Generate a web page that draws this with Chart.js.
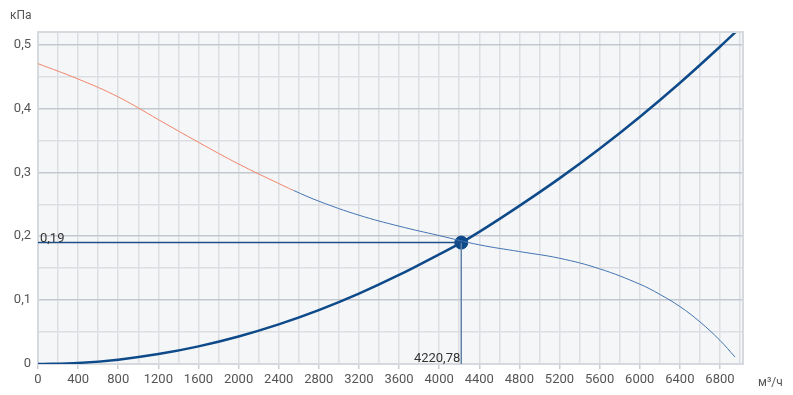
<!DOCTYPE html>
<html>
<head>
<meta charset="utf-8">
<script src="https://cdn.jsdelivr.net/npm/chart.js@4/dist/chart.umd.min.js"></script>
<style>
html,body{margin:0;padding:0;background:#fff;}
#wrap{width:793px;height:395px;position:relative;}
</style>
</head>
<body>
<div id="wrap"><canvas id="c" width="793" height="395"></canvas></div>
<script>
// Fan curve (flow m3/h, pressure kPa)
const fanX = [0, 400, 800, 1200, 1600, 2000, 2400, 2550, 2800, 3200, 3600, 4000, 4400, 4800, 5200, 5600, 6000, 6200, 6400, 6600, 6800, 6950];
const fanY = [0.470, 0.446, 0.418, 0.3825, 0.347, 0.313, 0.2825, 0.2715, 0.2548, 0.2329, 0.2157, 0.201, 0.1865, 0.176, 0.1655, 0.149, 0.125, 0.109, 0.090, 0.066, 0.037, 0.011];
// Fan curve drawn in orange below this flow
const fanWarnLimit = 2550;
// System curve
const sysX = [0, 400, 800, 1200, 1600, 2000, 2400, 2800, 3200, 3600, 4000, 4220.78, 4400, 4800, 5200, 5600, 6000, 6400, 6800, 7000];
const sysY = [0, 0.0017, 0.0068, 0.0155, 0.0276, 0.0431, 0.062, 0.0843, 0.1101, 0.1393, 0.1716, 0.19, 0.2068, 0.2475, 0.2905, 0.3368, 0.3866, 0.4398, 0.4965, 0.526];
// Operating point
const opX = 4220.78;
const opY = 0.19;
const opXLabel = '4220,78';
const opYLabel = '0,19';
// Axes
const xMin = 0, xMax = 7030, xStep = 200, xLabelStep = 400, xLastTick = 7000;
const yMin = 0, yMax = 0.518, yStep = 0.05, yLastTick = 0.5;
const yUnit = 'кПа';
const xUnit = 'м³/ч';

const toPts = (xs, ys) => xs.map((x, i) => ({x: x, y: ys[i]}));
const FONT = 'Roboto, "Liberation Sans", sans-serif';

const makeTicks = (from, to, step) => {
  const out = [];
  const n = Math.round((to - from) / step);
  for (let i = 0; i <= n; i++) out.push({value: +(from + i * step).toFixed(6)});
  return out;
};

const decor = {
  id: 'decor',
  beforeDraw(chart) {
    const {ctx, chartArea: a} = chart;
    ctx.save();
    ctx.fillStyle = '#f4f6f8';
    ctx.fillRect(a.left, a.top, a.right - a.left, a.bottom - a.top);
    ctx.restore();
  },
  beforeDatasetsDraw(chart) {
    const {ctx, chartArea: a} = chart;
    ctx.save();
    ctx.strokeStyle = '#d6d9dd';
    ctx.lineWidth = 2;
    ctx.strokeRect(a.left, a.top - 1, a.right - a.left, a.bottom - a.top + 1);
    ctx.restore();
  },
  afterDraw(chart) {
    const {ctx, scales} = chart;
    const xs = scales.x, ys = scales.y;
    ctx.save();
    ctx.fillStyle = '#555';
    ctx.font = '12px ' + FONT;
    ctx.textBaseline = 'alphabetic';
    ctx.textAlign = 'left';
    ctx.fillText(yUnit, 10, 19);
    ctx.fillText(xUnit, 758, 386);
    ctx.fillStyle = '#333';
    ctx.font = '13px ' + FONT;
    ctx.fillText(opYLabel, xs.getPixelForValue(0) + 2, ys.getPixelForValue(opY) - 1);
    ctx.textAlign = 'right';
    ctx.fillText(opXLabel, xs.getPixelForValue(opX) - 1, ys.getPixelForValue(0) - 2);
    ctx.restore();
  }
};

new Chart(document.getElementById('c'), {
  type: 'line',
  data: {
    datasets: [
      {
        data: toPts([0, opX], [opY, opY]),
        borderColor: '#1d4f86', borderWidth: 1.5, pointRadius: 0, tension: 0
      },
      {
        data: toPts([opX, opX], [0, opY]),
        borderColor: '#5f80a8', borderWidth: 1.5, pointRadius: 0, tension: 0
      },
      {
        data: toPts(fanX, fanY),
        borderColor: '#4475b2', borderWidth: 1, pointRadius: 0,
        tension: 0.4,
        segment: {
          borderColor: c => (c.p0.parsed.x < fanWarnLimit ? '#f2866b' : '#4475b2')
        }
      },
      {
        data: toPts(sysX, sysY),
        borderColor: '#0e4a8a', borderWidth: 2.5, pointRadius: 0,
        cubicInterpolationMode: 'monotone'
      },
      {
        data: [{x: opX, y: opY}],
        showLine: false, pointRadius: 6.5, pointBorderWidth: 1,
        pointBorderColor: '#0e4a8a', pointBackgroundColor: '#0e4a8a'
      },
      {
        data: [{x: opX, y: opY}],
        showLine: false, pointRadius: 4.2, pointBorderWidth: 1,
        pointBorderColor: '#7f9fc8', pointBackgroundColor: '#0e4a8a'
      }
    ]
  },
  options: {
    responsive: false,
    devicePixelRatio: 1,
    animation: false,
    events: [],
    layout: {padding: {top: 33, right: 50, left: 0, bottom: 0}},
    plugins: {legend: {display: false}, tooltip: {enabled: false}},
    scales: {
      x: {
        type: 'linear', min: xMin, max: xMax,
        afterBuildTicks: s => { s.ticks = makeTicks(xMin, xLastTick, xStep); },
        afterFit: s => { s.height = 31; },
        border: {display: false},
        grid: {
          color: '#dcdee2', lineWidth: 1.5,
          drawTicks: true, tickLength: 5,
          tickColor: c => (c.tick && c.tick.value % xLabelStep === 0 ? '#c9cdd3' : 'rgba(0,0,0,0)')
        },
        ticks: {
          autoSkip: false, maxRotation: 0, minRotation: 0, padding: 3,
          color: '#555', font: {family: FONT, size: 13},
          callback: v => (Math.round(v) % xLabelStep === 0 ? String(Math.round(v)) : '')
        }
      },
      y: {
        type: 'linear', min: yMin, max: yMax,
        afterBuildTicks: s => { s.ticks = makeTicks(yMin, yLastTick, yStep); },
        afterFit: s => { s.width = 38; },
        border: {display: false},
        grid: {
          drawTicks: false, lineWidth: 1.5,
          color: c => {
            const v = Math.round(c.tick.value * 100);
            return v % 10 === 0 ? '#c3c8d0' : '#dcdee2';
          }
        },
        ticks: {
          autoSkip: false, padding: 7,
          color: '#555', font: {family: FONT, size: 13},
          callback: v => {
            const r = Math.round(v * 100);
            if (r % 10 !== 0) return '';
            return (r / 100).toString().replace('.', ',');
          }
        }
      }
    }
  },
  plugins: [decor]
});
</script>
</body>
</html>
